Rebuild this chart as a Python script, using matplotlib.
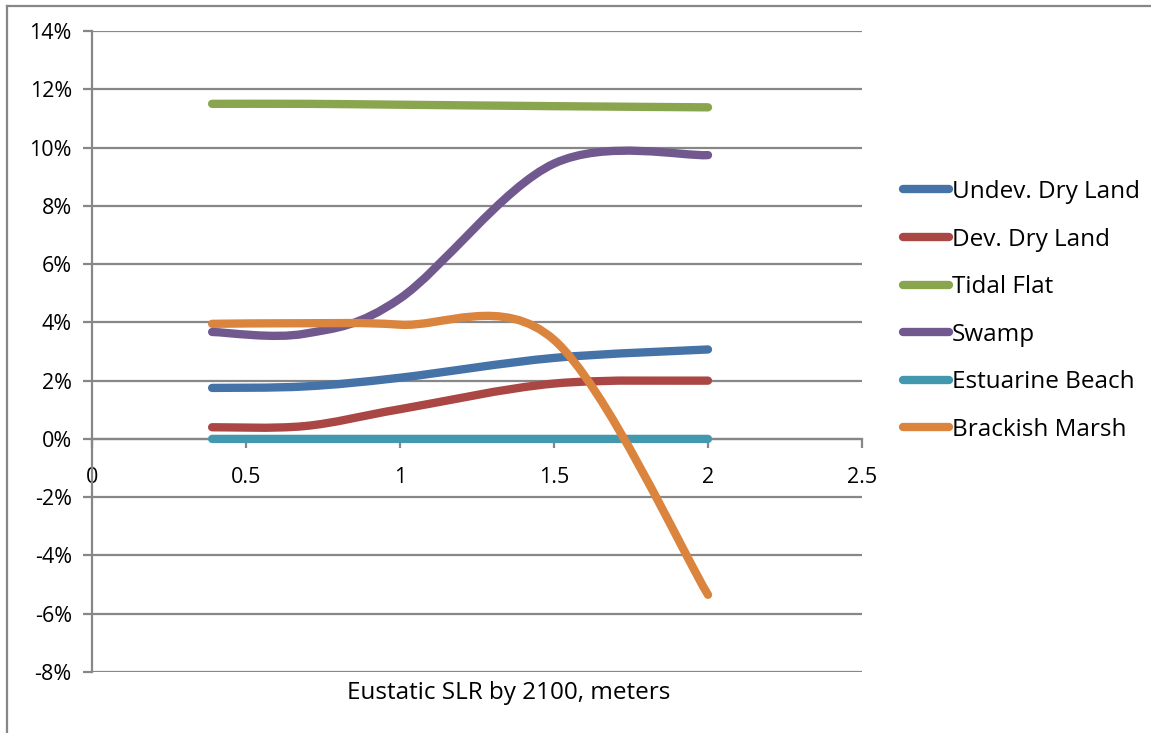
import matplotlib

matplotlib.use("Agg")
import matplotlib.pyplot as plt  # noqa: E402
from matplotlib.lines import Line2D  # noqa: E402
from matplotlib.patches import PathPatch  # noqa: E402
from matplotlib.path import Path  # noqa: E402
from matplotlib.ticker import FuncFormatter, MultipleLocator  # noqa: E402

plt.rcParams["font.family"] = ["Open Sans", "DejaVu Sans"]

# SLR scenarios (m by 2100) and % change in area per land-cover class
slr_m = [0.39, 0.69, 1.0, 1.5, 2.0]
undev_dry_land = [1.75, 1.80, 2.10, 2.78, 3.07]
dev_dry_land = [0.40, 0.44, 1.02, 1.90, 2.00]
tidal_flat = [11.50, 11.50, 11.47, 11.42, 11.38]
swamp = [3.67, 3.61, 4.82, 9.45, 9.74]
estuarine_beach = [0.0, 0.0, 0.0, 0.0, 0.0]
brackish_marsh = [3.95, 3.97, 3.92, 3.40, -5.35]

series = [
    ("Undev. Dry Land", undev_dry_land, "#4572A7"),
    ("Dev. Dry Land", dev_dry_land, "#AA4643"),
    ("Tidal Flat", tidal_flat, "#89A54E"),
    ("Swamp", swamp, "#71588F"),
    ("Estuarine Beach", estuarine_beach, "#4198AF"),
    ("Brackish Marsh", brackish_marsh, "#DB843D"),
]

GRID = "#878787"
W, H = 1151, 733


def smooth_path(xs, ys):
    """Spreadsheet-style smoothed line: cubic Bezier through every point,
    control handles at 1/6 of the neighbour-to-neighbour chord."""
    pts = list(zip(xs, ys))
    n = len(pts)
    verts = [pts[0]]
    codes = [Path.MOVETO]
    for i in range(n - 1):
        p0 = pts[max(i - 1, 0)]
        p1 = pts[i]
        p2 = pts[i + 1]
        p3 = pts[min(i + 2, n - 1)]
        c1 = (p1[0] + (p2[0] - p0[0]) / 6, p1[1] + (p2[1] - p0[1]) / 6)
        c2 = (p2[0] - (p3[0] - p1[0]) / 6, p2[1] - (p3[1] - p1[1]) / 6)
        verts += [c1, c2, p2]
        codes += [Path.CURVE4] * 3
    return Path(verts, codes)


fig = plt.figure(figsize=(W / 100, H / 100), dpi=100)
ax = fig.add_axes([92 / W, (H - 672) / H, (862 - 92) / W, (672 - 31) / H])

ax.set_xlim(0, 2.5)
ax.set_ylim(-8, 14)
ax.xaxis.set_major_locator(MultipleLocator(0.5))
ax.yaxis.set_major_locator(MultipleLocator(2))
ax.xaxis.set_major_formatter(FuncFormatter(lambda v, _: f"{v:g}"))
ax.yaxis.set_major_formatter(FuncFormatter(lambda v, _: f"{v:.0f}%"))

for s in ("top", "right"):
    ax.spines[s].set_visible(False)
ax.spines["bottom"].set_position(("data", 0))
for s in ("left", "bottom"):
    ax.spines[s].set_color(GRID)
    ax.spines[s].set_linewidth(1.6)
    ax.spines[s].set_zorder(1)

ax.grid(axis="y", color=GRID, linewidth=1.6, zorder=0)
ax.set_axisbelow(True)
ax.tick_params(axis="both", direction="out", length=6.5, width=1.6, color=GRID,
               labelsize=15.5, labelcolor="black")
ax.tick_params(axis="x", pad=14)
ax.tick_params(axis="y", pad=8)

for name, vals, color in series:
    patch = PathPatch(smooth_path(slr_m, vals), facecolor="none", edgecolor=color,
                      linewidth=6, capstyle="round", joinstyle="round", zorder=3)
    ax.add_patch(patch)

handles = [Line2D([], [], color=c, linewidth=6, solid_capstyle="round")
           for _, _, c in series]
fig.legend(handles, [n for n, _, _ in series], loc="upper left",
           bbox_to_anchor=(903 / W, 1 - 180 / H), frameon=False, fontsize=17.5,
           handlelength=1.9, handletextpad=0.1, labelspacing=0.97,
           borderpad=0, borderaxespad=0)

fig.text(509 / W, 1 - 693 / H, "Eustatic SLR by 2100, meters", ha="center", va="center",
         fontsize=17.5)

# chart-area frame along the top and left edges
fig.add_artist(Line2D([7 / W, 1], [1 - 6 / H, 1 - 6 / H], color=GRID, linewidth=1.6,
                      transform=fig.transFigure))
fig.add_artist(Line2D([7 / W, 7 / W], [0, 1 - 6 / H], color=GRID, linewidth=1.6,
                      transform=fig.transFigure))

fig.savefig("out.png", dpi=100)
